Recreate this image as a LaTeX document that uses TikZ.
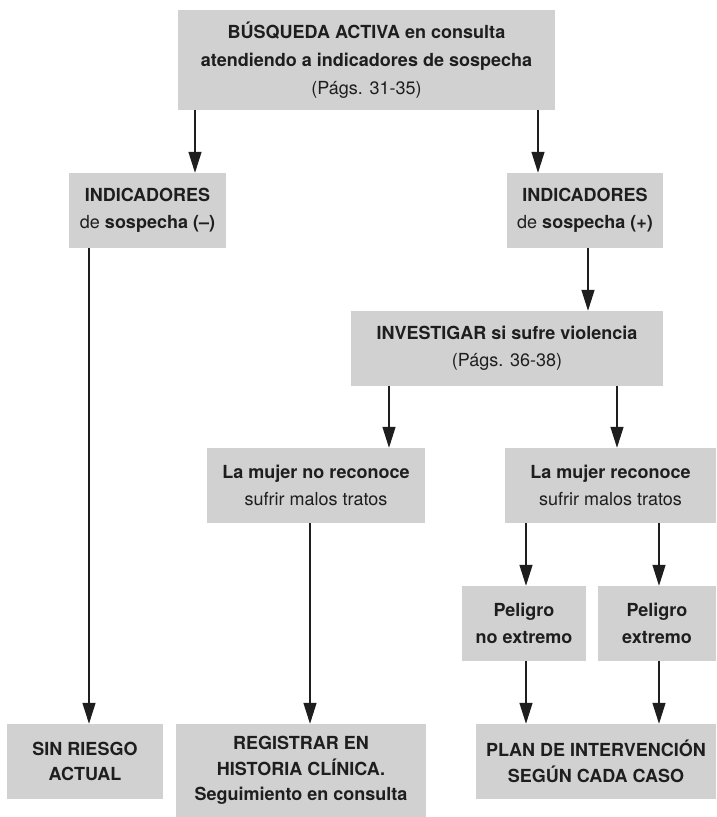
\documentclass[tikz,border=0pt]{standalone}
\usepackage{fontspec}
\setmainfont{TeX Gyre Heros}
\usetikzlibrary{arrows.meta}
\definecolor{boxgray}{HTML}{D1D1D1}
\definecolor{ink}{HTML}{1E1E1E}
\begin{document}
\begin{tikzpicture}[x=1pt,y=-1pt,
  box/.style={fill=boxgray, inner sep=0pt, align=center, text=ink,
    font=\fontsize{18}{27}\selectfont},
  arr/.style={draw=ink, line width=1.3pt, -{Triangle[length=21pt,width=13pt]}}]
\useasboundingbox[fill=white] (0,0) rectangle (716,817);

\node[box, minimum width=377pt, minimum height=100pt] (top) at (366.5,60)
  {\textbf{BÚSQUEDA ACTIVA en consulta}\\[1pt]
   \textbf{atendiendo a indicadores de sospecha}\\[1pt]
   (Págs. 31-35)};
\node[box, minimum width=157pt, minimum height=75pt] (neg) at (147.5,210.5)
  {\textbf{INDICADORES}\\ de \textbf{sospecha (–)}};
\node[box, minimum width=156pt, minimum height=75pt] (pos) at (585,210.5)
  {\textbf{INDICADORES}\\ de \textbf{sospecha (+)}};
\node[box, minimum width=312pt, minimum height=75pt] (inv) at (507,348.5)
  {\textbf{INVESTIGAR si sufre violencia}\\ (Págs. 36-38)};
\node[box, minimum width=218pt, minimum height=75pt] (nor) at (316,485.5)
  {\textbf{La mujer no reconoce}\\ sufrir malos tratos};
\node[box, minimum width=211pt, minimum height=75pt] (rec) at (610.5,485.5)
  {\textbf{La mujer reconoce}\\ sufrir malos tratos};
\node[box, minimum width=124pt, minimum height=75pt] (pne) at (524,623.5)
  {\textbf{Peligro}\\ \textbf{no extremo}};
\node[box, minimum width=118pt, minimum height=75pt] (pe) at (657,623.5)
  {\textbf{Peligro}\\ \textbf{extremo}};
\node[box, minimum width=156pt, minimum height=75pt, font=\fontsize{18}{25.5}\selectfont] (sin) at (85,761.5)
  {\textbf{SIN RIESGO}\\ \textbf{ACTUAL}};
\node[box, minimum width=250pt, minimum height=93pt, font=\fontsize{18}{25.5}\selectfont] (reg) at (301,770.5)
  {\textbf{REGISTRAR EN}\\ \textbf{HISTORIA CLÍNICA.}\\ \textbf{Seguimiento en consulta}};
\node[box, minimum width=240pt, minimum height=75pt, font=\fontsize{18}{25.5}\selectfont] (plan) at (596,761.5)
  {\textbf{PLAN DE INTERVENCIÓN}\\ \textbf{SEGÚN CADA CASO}};

\coordinate (xa) at (195,0);
\coordinate (xb) at (538,0);
\coordinate (xc) at (89,0);
\coordinate (xd) at (588,0);
\coordinate (xe) at (389,0);
\coordinate (xf) at (617,0);
\coordinate (xg) at (310,0);
\coordinate (xh) at (526,0);
\coordinate (xi) at (659,0);

\draw[arr] (top.south -| xa) -- (neg.north -| xa);
\draw[arr] (top.south -| xb) -- (pos.north -| xb);
\draw[arr] (neg.south -| xc) -- (sin.north -| xc);
\draw[arr] (pos.south -| xd) -- (inv.north -| xd);
\draw[arr] (inv.south -| xe) -- (nor.north -| xe);
\draw[arr] (inv.south -| xf) -- (rec.north -| xf);
\draw[arr] (nor.south -| xg) -- (reg.north -| xg);
\draw[arr] (rec.south -| xh) -- (pne.north -| xh);
\draw[arr] (rec.south -| xi) -- (pe.north -| xi);
\draw[arr] (pne.south -| xh) -- (plan.north -| xh);
\draw[arr] (pe.south -| xi) -- (plan.north -| xi);
\end{tikzpicture}
\end{document}
